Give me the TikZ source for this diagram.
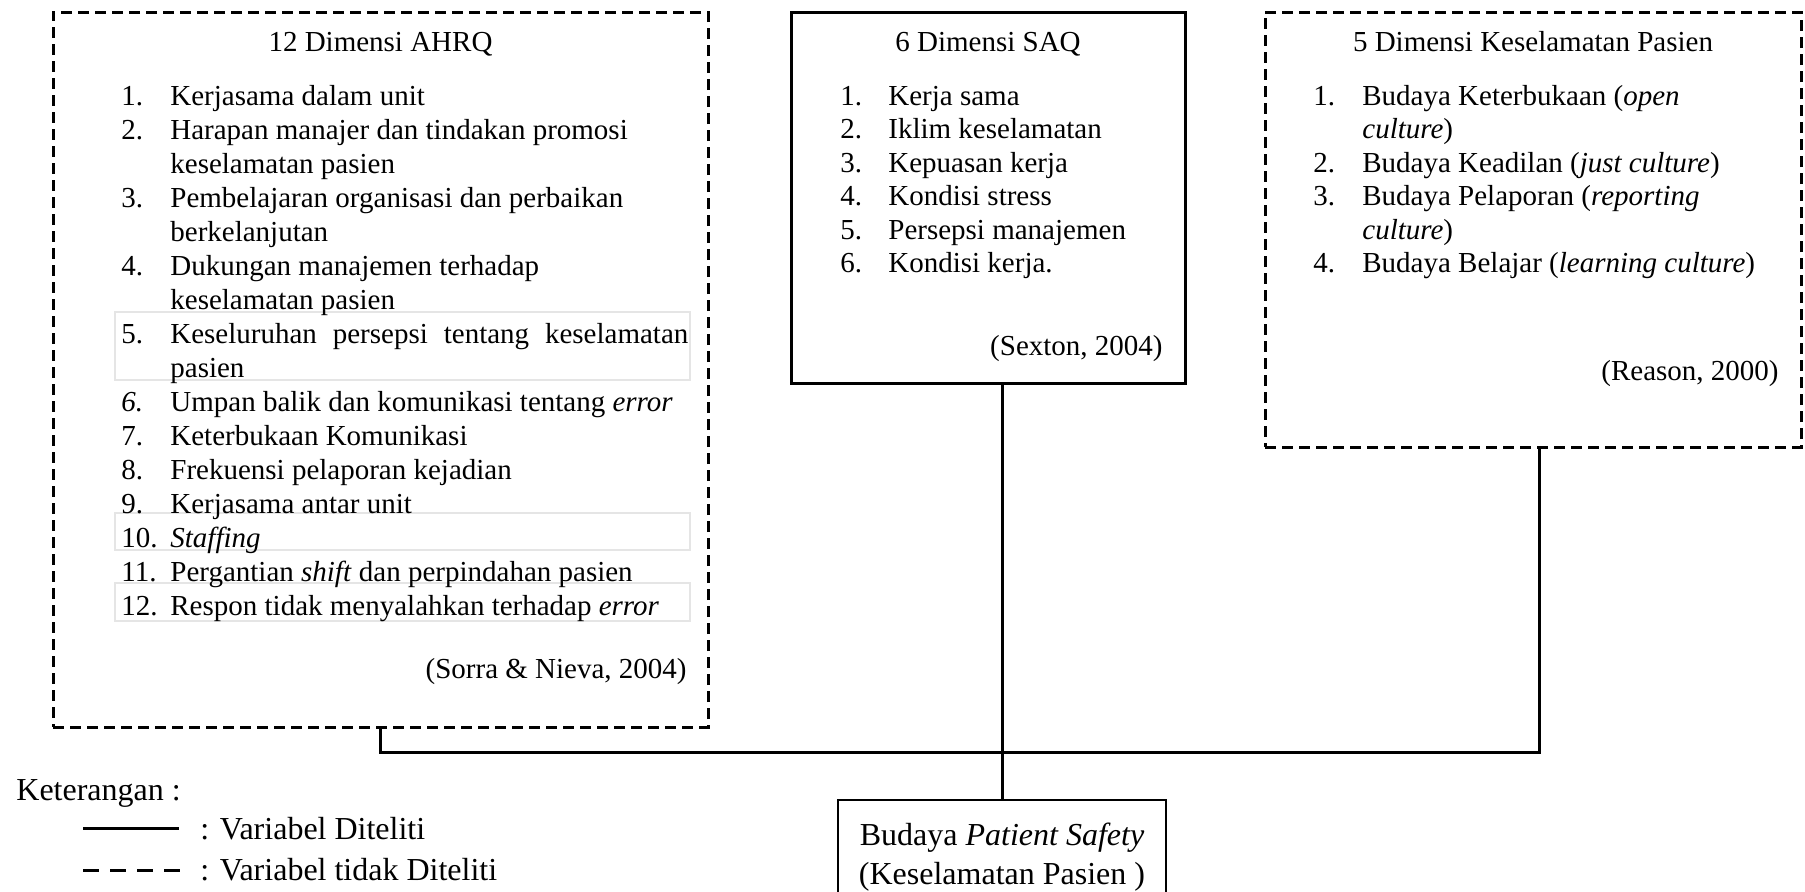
\documentclass[tikz,border=0pt]{standalone}
\usepackage{fontspec}
\setmainfont{Liberation Serif}
\usetikzlibrary{fit}
\begin{document}
\begin{tikzpicture}[x=0.5pt,y=-0.5pt,
  dashbox/.style={draw, line width=1.5pt, dash pattern=on 5.5pt off 3pt, inner sep=0pt},
  solidbox/.style={draw, line width=1.5pt, inner sep=0pt},
  thinbox/.style={draw, line width=1pt, inner sep=0pt},
  conn/.style={line width=1.5pt},
  txt/.style={inner sep=0pt, font=\fontsize{14.5}{17}\selectfont},
  big/.style={inner sep=0pt, font=\fontsize{16}{19}\selectfont},
  faint/.style={draw=black!10, line width=0.75pt}]
\clip (0,0) rectangle (1805,891);
\fill[white] (0,0) rectangle (1805,891);

% faint cell outlines
\draw[faint] (115,312) rectangle (690,380);
\draw[faint] (115,513) rectangle (690,550);
\draw[faint] (115,583) rectangle (690,621);

% boxes
\node[dashbox, fit={(53,12)(708,727)}] (ahrq) {};
\node[solidbox, fit={(791,12)(1185,383)}] (saq) {};
\node[dashbox, fit={(1265,12)(1801,447)}] (ksp) {};
\node[thinbox, fit={(838,800)(1166,915)}] (budaya) {};

% left box text
\node[txt, anchor=base] (ahrqt) at (380.5,51) {12 Dimensi AHRQ};
\node[txt, anchor=base west] (ahrql) at (121,105) {\begin{tabular}[t]{@{}p{24.5pt}@{}l@{}}
1. & Kerjasama dalam unit\\
2. & Harapan manajer dan tindakan promosi\\
   & keselamatan pasien\\
3. & Pembelajaran organisasi dan perbaikan\\
   & berkelanjutan\\
4. & Dukungan manajemen terhadap\\
   & keselamatan pasien\\
5. & \makebox[259pt][s]{Keseluruhan persepsi tentang keselamatan}\\
   & pasien\\
\textit{6.} & Umpan balik dan komunikasi tentang \textit{error}\\
7. & Keterbukaan Komunikasi\\
8. & Frekuensi pelaporan kejadian\\
9. & Kerjasama antar unit\\
10. & \textit{Staffing}\\
11. & Pergantian \textit{shift} dan perpindahan pasien\\
12. & Respon tidak menyalahkan terhadap \textit{error}
\end{tabular}};
\node[txt, anchor=base east] (sorra) at (687,678) {(Sorra \& Nieva, 2004)};

% middle box text
\node[txt, anchor=base] (saqt) at (988,51) {6 Dimensi SAQ};
\node[inner sep=0pt, font=\fontsize{14.5}{16.75}\selectfont, anchor=base west] (saql) at (840,105) {\begin{tabular}[t]{@{}p{24pt}@{}l@{}}
1. & Kerja sama\\
2. & Iklim keselamatan\\
3. & Kepuasan kerja\\
4. & Kondisi stress\\
5. & Persepsi manajemen\\
6. & Kondisi kerja.
\end{tabular}};
\node[txt, anchor=base east] (sexton) at (1163,355) {(Sexton, 2004)};

% right box text
\node[txt, anchor=base] (kspt) at (1533,51) {5 Dimensi Keselamatan Pasien};
\node[inner sep=0pt, font=\fontsize{14.5}{16.75}\selectfont, anchor=base west] (kspl) at (1313,105) {\begin{tabular}[t]{@{}p{24.5pt}@{}l@{}}
1. & Budaya Keterbukaan (\textit{open}\\
   & \textit{culture})\\
2. & Budaya Keadilan (\textit{just culture})\\
3. & Budaya Pelaporan (\textit{reporting}\\
   & \textit{culture})\\
4. & Budaya Belajar (\textit{learning culture})
\end{tabular}};
\node[txt, anchor=base east] (reason) at (1779,380) {(Reason, 2000)};

% bottom box text
\node[big, anchor=base] (budayaA) at (1002,845) {Budaya \textit{Patient Safety}};
\node[big, anchor=base] (budayaB) at (1002,884) {(Keselamatan Pasien )};

% connectors
\coordinate (j) at (1002,752);
\draw[conn] (saq.south -| budaya.north) -- (budaya.north);
\draw[conn] (ahrq.south) |- (j);
\draw[conn] ([xshift=3pt]ksp.south) |- (j);

% legend
\node[big, anchor=base west] (ket) at (16,800) {Keterangan :};
\draw[line width=1.5pt] (83,828) -- (179,828);
\draw[line width=1.5pt, dash pattern=on 8pt off 5.5pt] (83,870) -- (180,870);
\node[big, anchor=base west] (leg1) at (200,839) {: Variabel Diteliti};
\node[big, anchor=base west] (leg2) at (200,880) {: Variabel tidak Diteliti};
\end{tikzpicture}
\end{document}
